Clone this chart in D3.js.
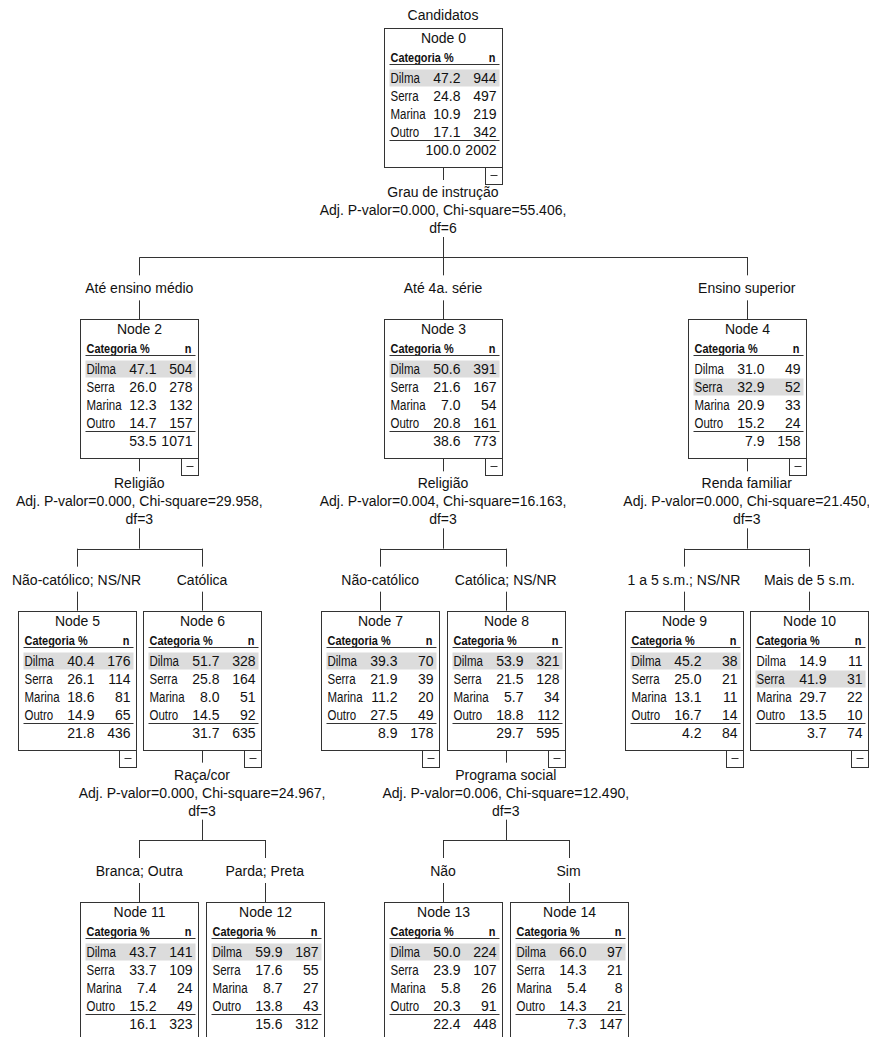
<!DOCTYPE html>
<html>
<head>
<meta charset="utf-8">
<script src="https://cdn.jsdelivr.net/npm/d3@7"></script>
<style>
  html, body { margin: 0; padding: 0; background: #fff; }
  svg { display: block; font-family: "Liberation Sans", Arial, sans-serif; }
</style>
</head>
<body>
<div id="chart"></div>
<script>
// CHAID tree - Candidatos

const rootLabel = "Candidatos";
const categories = ["Dilma", "Serra", "Marina", "Outro"];

const nodeIds   = [0, 2, 3, 4, 5, 6, 7, 8, 9, 10, 11, 12, 13, 14];
const parentIds = [null, 0, 0, 0, 2, 2, 3, 3, 4, 4, 6, 6, 8, 8];
const branchLabels = [
    "", "Até ensino médio", "Até 4a. série", "Ensino superior",
    "Não-católico; NS/NR", "Católica", "Não-católico", "Católica; NS/NR",
    "1 a 5 s.m.; NS/NR", "Mais de 5 s.m.", "Branca; Outra", "Parda; Preta",
    "Não", "Sim"
];

// % and n per category (Dilma, Serra, Marina, Outro)
const nodePct = [
    [47.2, 24.8, 10.9, 17.1],
    [47.1, 26.0, 12.3, 14.7],
    [50.6, 21.6, 7.0, 20.8],
    [31.0, 32.9, 20.9, 15.2],
    [40.4, 26.1, 18.6, 14.9],
    [51.7, 25.8, 8.0, 14.5],
    [39.3, 21.9, 11.2, 27.5],
    [53.9, 21.5, 5.7, 18.8],
    [45.2, 25.0, 13.1, 16.7],
    [14.9, 41.9, 29.7, 13.5],
    [43.7, 33.7, 7.4, 15.2],
    [59.9, 17.6, 8.7, 13.8],
    [50.0, 23.9, 5.8, 20.3],
    [66.0, 14.3, 5.4, 14.3]
];
const nodeN = [
    [944, 497, 219, 342],
    [504, 278, 132, 157],
    [391, 167, 54, 161],
    [49, 52, 33, 24],
    [176, 114, 81, 65],
    [328, 164, 51, 92],
    [70, 39, 20, 49],
    [321, 128, 34, 112],
    [38, 21, 11, 14],
    [11, 31, 22, 10],
    [141, 109, 24, 49],
    [187, 55, 27, 43],
    [224, 107, 26, 91],
    [97, 21, 8, 21]
];
const totalPct = [100.0, 53.5, 38.6, 7.9, 21.8, 31.7, 8.9, 29.7, 4.2, 3.7, 16.1, 15.6, 22.4, 7.3];
const totalN   = [2002, 1071, 773, 158, 436, 635, 178, 595, 84, 74, 323, 312, 448, 147];

// split information for the nodes that have children
const splitNodes = [0, 2, 3, 4, 6, 8];
const splitVars  = ["Grau de instrução", "Religião", "Religião", "Renda familiar", "Raça/cor", "Programa social"];
const splitP     = ["0.000", "0.000", "0.004", "0.000", "0.000", "0.006"];
const splitChi   = ["55.406", "29.958", "16.163", "21.450", "24.967", "12.490"];
const splitDf    = [6, 3, 3, 3, 3, 3];

function drawTree() {
    const W = 869, H = 1037;
    const boxW = 118, boxH = 139;
    const ink = "#111", lineCol = "#333";

    const svg = d3.select("#chart")
        .append("svg")
        .attr("width", W)
        .attr("height", H);

    // hierarchy
    const rows = nodeIds.map((id, i) => ({
        id: String(id),
        parentId: parentIds[i] == null ? null : String(parentIds[i]),
        i: i
    }));
    const root = d3.stratify().id(d => d.id).parentId(d => d.parentId)(rows);

    d3.tree()
        .nodeSize([125.5, 1])
        .separation((a, b) => a.parent === b.parent ? 1 : 1.42)(root);

    const rootX = 443;
    const px = d => d.x + rootX;
    const top = d3.scaleLinear().domain([0, 3]).range([28, 902]);
    const crisp = v => Math.round(v) + 0.5;

    function vline(x, y1, y2) {
        svg.append("line")
            .attr("x1", crisp(x)).attr("x2", crisp(x))
            .attr("y1", y1).attr("y2", y2)
            .attr("stroke", lineCol).attr("stroke-width", 1);
    }
    function label(x, y, txt) {
        svg.append("text")
            .attr("x", x).attr("y", y).attr("dy", "0.35em")
            .attr("text-anchor", "middle")
            .attr("font-size", 14)
            .attr("fill", ink)
            .text(txt);
    }

    // root title
    label(px(root), top(0) - 13, rootLabel);

    // connectors and split texts
    root.each(node => {
        if (!node.children) return;
        const k = splitNodes.indexOf(+node.id);
        const x = px(node);
        const B = top(node.depth) + boxH;
        const C = top(node.depth + 1);
        const hy = C - 62;

        vline(x, B, B + 13);
        label(x, B + 25, splitVars[k]);
        label(x, B + 43, `Adj. P-valor=${splitP[k]}, Chi-square=${splitChi[k]},`);
        label(x, B + 61, `df=${splitDf[k]}`);
        vline(x, B + 70, hy);

        const xs = node.children.map(px);
        svg.append("line")
            .attr("x1", crisp(d3.min(xs))).attr("x2", crisp(d3.max(xs)) + 0.5)
            .attr("y1", crisp(hy)).attr("y2", crisp(hy))
            .attr("stroke", lineCol).attr("stroke-width", 1);

        node.children.forEach(c => {
            const cx = px(c);
            vline(cx, hy, hy + 18);
            label(cx, C - 31, branchLabels[c.data.i]);
            vline(cx, C - 19, C);
        });
    });

    // node boxes
    root.each(node => {
        const i = node.data.i;
        const L = Math.round(px(node) - boxW / 2) + 0.5;
        const T = Math.round(top(node.depth)) + 0.5;
        const g = svg.append("g").attr("transform", `translate(${L},${T})`);
        const modal = d3.maxIndex(nodePct[i]);

        g.append("rect")
            .attr("width", boxW).attr("height", boxH)
            .attr("fill", "#fff").attr("stroke", lineCol);

        // minus toggle
        g.append("rect")
            .attr("x", boxW - 17).attr("y", boxH)
            .attr("width", 17).attr("height", 17)
            .attr("fill", "#fff").attr("stroke", lineCol);
        g.append("line")
            .attr("x1", boxW - 12).attr("x2", boxW - 5)
            .attr("y1", boxH + 8).attr("y2", boxH + 8)
            .attr("stroke", lineCol);

        g.append("text")
            .attr("x", boxW / 2).attr("y", 10).attr("dy", "0.35em")
            .attr("text-anchor", "middle")
            .attr("font-size", 14).attr("fill", ink)
            .text("Node " + node.id);

        // header (narrow bold)
        g.append("text")
            .attr("transform", "translate(6,29) scale(0.84,1)")
            .attr("dy", "0.35em")
            .attr("font-size", 13).attr("font-weight", "bold").attr("fill", ink)
            .text("Categoria %");
        g.append("text")
            .attr("transform", `translate(${boxW - 7},29) scale(0.84,1)`)
            .attr("dy", "0.35em").attr("text-anchor", "end")
            .attr("font-size", 13).attr("font-weight", "bold").attr("fill", ink)
            .text("n");
        g.append("line")
            .attr("x1", 5).attr("x2", boxW - 3)
            .attr("y1", 36).attr("y2", 36)
            .attr("stroke", lineCol);

        // highlight of modal category
        g.append("rect")
            .attr("x", 5).attr("y", 41 + modal * 18)
            .attr("width", boxW - 8).attr("height", 17)
            .attr("fill", "#dcdcdc");

        categories.forEach((cat, j) => {
            const cy = 49.5 + j * 18;
            g.append("text")
                .attr("transform", `translate(6,${cy}) scale(0.82,1)`)
                .attr("dy", "0.35em")
                .attr("font-size", 14).attr("fill", ink)
                .text(cat);
            g.append("text")
                .attr("x", 76).attr("y", cy).attr("dy", "0.35em")
                .attr("text-anchor", "end")
                .attr("font-size", 14).attr("fill", ink)
                .text(nodePct[i][j].toFixed(1));
            g.append("text")
                .attr("x", boxW - 6).attr("y", cy).attr("dy", "0.35em")
                .attr("text-anchor", "end")
                .attr("font-size", 14).attr("fill", ink)
                .text(nodeN[i][j]);
        });

        g.append("line")
            .attr("x1", 5).attr("x2", boxW - 3)
            .attr("y1", 112).attr("y2", 112)
            .attr("stroke", lineCol);
        g.append("text")
            .attr("x", 76).attr("y", 122).attr("dy", "0.35em")
            .attr("text-anchor", "end")
            .attr("font-size", 14).attr("fill", ink)
            .text(totalPct[i].toFixed(1));
        g.append("text")
            .attr("x", boxW - 6).attr("y", 122).attr("dy", "0.35em")
            .attr("text-anchor", "end")
            .attr("font-size", 14).attr("fill", ink)
            .text(totalN[i]);
    });
}

window.addEventListener('DOMContentLoaded', drawTree);
</script>
</body>
</html>
